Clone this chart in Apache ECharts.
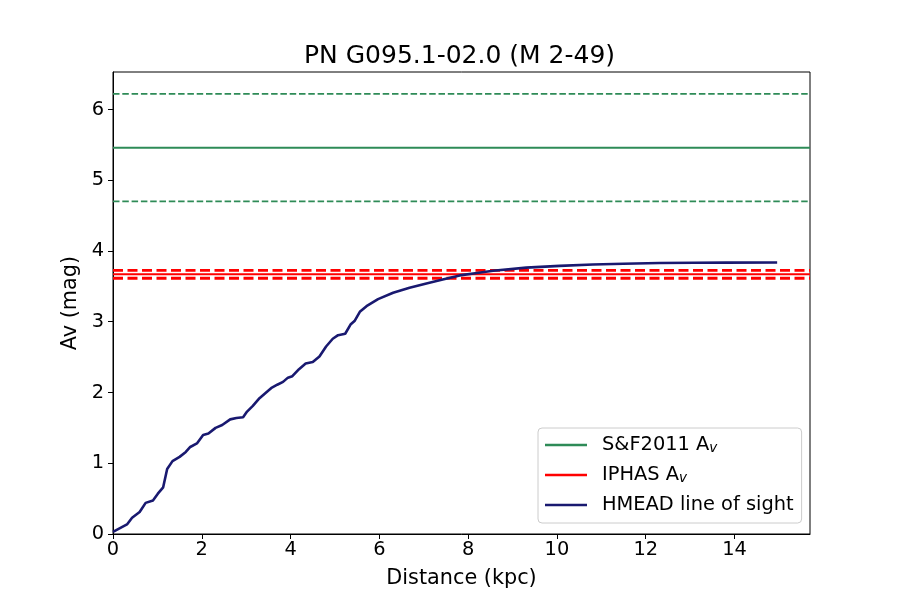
<!DOCTYPE html>
<html><head><meta charset="utf-8">
<script src="https://cdn.jsdelivr.net/npm/echarts@6/dist/echarts.min.js"></script>
<style>html,body{margin:0;padding:0;background:#fff}#c{width:900px;height:600px}</style>
</head><body><div id="c"></div><script>
// HMEAD line-of-sight extinction curve
const distance = [0, 0.315, 0.43, 0.6, 0.735, 0.9, 1.01, 1.13, 1.22, 1.34, 1.50, 1.64, 1.74, 1.89, 2.03, 2.15, 2.31, 2.46, 2.64, 2.78, 2.93, 3.02, 3.15, 3.30, 3.43, 3.58, 3.70, 3.83, 3.94, 4.04, 4.19, 4.34, 4.50, 4.65, 4.80, 4.95, 5.07, 5.23, 5.35, 5.44, 5.56, 5.71, 5.97, 6.31, 6.68, 7.06, 7.45, 7.81, 8.2, 8.56, 9.31, 10.06, 10.81, 11.5, 12.31, 13.1, 13.81, 14.96];
const avHmead = [0.03, 0.135, 0.23, 0.31, 0.44, 0.475, 0.57, 0.66, 0.92, 1.03, 1.09, 1.16, 1.23, 1.28, 1.40, 1.42, 1.50, 1.54, 1.62, 1.64, 1.65, 1.73, 1.81, 1.92, 1.99, 2.07, 2.11, 2.15, 2.21, 2.23, 2.33, 2.41, 2.43, 2.51, 2.65, 2.76, 2.81, 2.83, 2.96, 3.01, 3.14, 3.22, 3.32, 3.41, 3.48, 3.54, 3.60, 3.655, 3.69, 3.72, 3.765, 3.79, 3.81, 3.82, 3.83, 3.833, 3.835, 3.838];
// reference extinctions (value, +/- error)
const sfAv = [5.46, 0.76];
const iphasAv = [3.67, 0.055];
const xTicks = [0, 2, 4, 6, 8, 10, 12, 14];
const yTicks = [0, 1, 2, 3, 4, 5, 6];
const xRange = [0, 15.7];
const yRange = [0, 6.53];

const FONT = 'DejaVu Sans';
const curve = distance.map((d, i) => [d, avHmead[i]]);
const hline = v => [[xRange[0], v], [xRange[1], v]];

function lineSeries(name, v, color, width, dash, z) {
  return {
    name: name, type: 'line', data: hline(v), symbol: 'none', silent: true, z: z,
    lineStyle: { color: color, width: width, type: dash || 'solid' },
    itemStyle: { color: color }
  };
}

const series = [
  lineSeries('S&F2011 Av', sfAv[0], '#2e8b57', 2, null, 2),
  lineSeries('sf_hi', sfAv[0] + sfAv[1], '#2e8b57', 1.8, [6.5, 2.8], 2),
  lineSeries('sf_lo', sfAv[0] - sfAv[1], '#2e8b57', 1.8, [6.5, 2.8], 2),
  lineSeries('IPHAS Av', iphasAv[0], '#ff0000', 2, null, 3),
  lineSeries('iphas_hi', iphasAv[0] + iphasAv[1], '#ff0000', 2.8, [10, 4.5], 3),
  lineSeries('iphas_lo', iphasAv[0] - iphasAv[1], '#ff0000', 2.8, [10, 4.5], 3),
  {
    name: 'HMEAD line of sight', type: 'line', data: curve, symbol: 'none', z: 5,
    lineStyle: { color: '#191970', width: 2.6 }, itemStyle: { color: '#191970' }
  }
];

const chart = echarts.init(document.getElementById('c'), null, { renderer: 'canvas' });
chart.setOption({
  animation: false,
  backgroundColor: '#fff',
  textStyle: { fontFamily: FONT },
  title: {
    text: 'PN G095.1-02.0 (M 2-49)', left: 304, top: 40, padding: [4, 0, 4, 0],
    textStyle: { fontFamily: FONT, fontSize: 25, fontWeight: 'normal', color: '#000' }
  },
  grid: { left: 113, right: 90, top: 72, bottom: 66, show: true, borderColor: '#000', borderWidth: 1, backgroundColor: 'transparent' },
  legend: {
    data: [
      { name: 'S&F2011 Av', icon: 'rect' },
      { name: 'IPHAS Av', icon: 'rect' },
      { name: 'HMEAD line of sight', icon: 'rect' }
    ],
    orient: 'vertical', left: 538, top: 428,
    padding: [7, 8, 8, 7], itemGap: 10, itemWidth: 42, itemHeight: 2.4,
    backgroundColor: 'rgba(255,255,255,0.8)', borderColor: '#cccccc', borderWidth: 1, borderRadius: 4,
    formatter: function (name) {
      if (name.endsWith(' Av')) return '{t|' + name.slice(0, -1) + '}{s|v}';
      return '{t|' + name + '}';
    },
    textStyle: {
      fontFamily: FONT, fontSize: 19.4, color: '#000', lineHeight: 20,
      rich: {
        t: { fontFamily: FONT, fontSize: 19.4, color: '#000', padding: [0, 0, 0, 10], lineHeight: 20 },
        s: { fontFamily: FONT, fontSize: 13.5, fontStyle: 'italic', color: '#000', lineHeight: 20, verticalAlign: 'bottom' }
      }
    }
  },
  xAxis: {
    type: 'value', min: xRange[0], max: xRange[1],
    name: 'Distance (kpc)', nameLocation: 'middle', nameGap: 34,
    nameTextStyle: { fontFamily: FONT, fontSize: 20.8, color: '#000' },
    axisLine: { show: true, onZero: false, lineStyle: { color: '#000', width: 1 } },
    axisTick: { show: true, inside: false, length: 5, customValues: xTicks, lineStyle: { color: '#000', width: 1 } },
    axisLabel: { customValues: xTicks, fontFamily: FONT, fontSize: 19.4, color: '#000', margin: 6 },
    splitLine: { show: false }
  },
  yAxis: {
    type: 'value', min: yRange[0], max: yRange[1],
    name: 'Av (mag)', nameLocation: 'middle', nameGap: 30,
    nameTextStyle: { fontFamily: FONT, fontSize: 20.8, color: '#000' },
    axisLine: { show: true, onZero: false, lineStyle: { color: '#000', width: 1 } },
    axisTick: { show: true, inside: false, length: 5, customValues: yTicks, lineStyle: { color: '#000', width: 1 } },
    axisLabel: { customValues: yTicks, fontFamily: FONT, fontSize: 19.4, color: '#000', margin: 9 },
    splitLine: { show: false }
  },
  series: series
});
</script></body></html>
